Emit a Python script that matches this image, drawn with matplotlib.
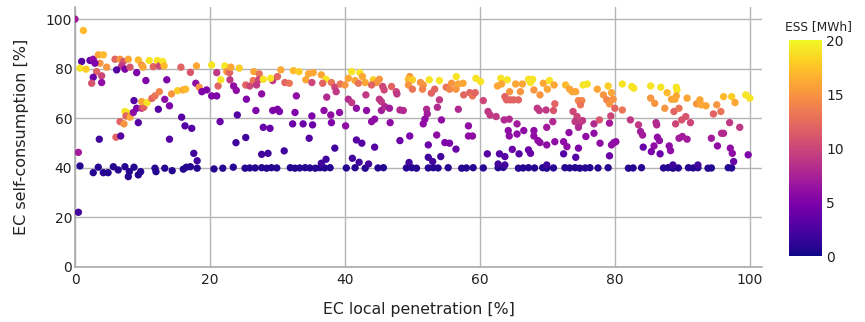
import matplotlib.pyplot as plt
import numpy as np

# region x < 21.5 (upper cloud + rising branch)
xa = [0.0, 1.24, 0.99, 0.74, 1.63, 2.22, 2.7, 3.46, 4.2, 3.7,
      2.96, 4.7, 3.2, 3.95, 2.7, 2.47, 3.95, 5.93, 6.67, 7.16,
      6.91, 7.9, 7.4, 8.15, 6.17, 9.14, 9.38, 9.88, 10.1, 11.0,
      11.6, 12.2, 12.5, 13.0, 13.2, 10.5, 13.6, 15.7, 17.1, 18.0,
      20.25, 21.0, 17.9, 18.4, 18.8, 19.5, 20.25, 21.0, 21.2, 21.5,
      7.4, 7.9, 7.56, 8.15, 6.67, 7.26, 6.07, 6.77, 8.64, 8.74,
      9.14, 9.38, 9.88, 10.2, 9.88, 10.7, 11.4, 11.85, 12.5, 12.35,
      13.3, 14.0, 14.3, 15.2, 16.0, 16.4, 15.8, 16.3, 17.3, 14.0,
      3.6, 0.5, 0.5, 17.6, 18.1]
ya = [100.1, 95.5, 83.0, 80.3, 79.9, 83.4, 83.9, 85.7, 85.7, 82.3,
      82.3, 80.7, 78.9, 77.2, 76.6, 74.2, 74.5, 83.9, 83.9, 83.0,
      81.2, 83.9, 79.9, 80.7, 79.6, 78.5, 83.6, 81.6, 80.7, 83.4,
      80.9, 83.4, 81.2, 83.0, 81.2, 75.3, 75.6, 80.7, 78.6, 81.2,
      81.6, 78.5, 74.2, 72.6, 70.8, 71.5, 69.1, 69.1, 73.1, 58.7,
      62.8, 62.1, 61.0, 60.5, 58.7, 57.8, 52.4, 52.9, 62.4, 67.2,
      64.1, 58.3, 64.1, 64.5, 66.8, 66.4, 68.1, 69.1, 70.8, 63.7,
      67.7, 65.1, 69.9, 71.2, 71.5, 71.8, 60.5, 57.0, 56.0, 51.6,
      51.6, 46.3, 22.1, 45.9, 42.9]
ea = [7, 17, 3, 19, 18, 4, 6, 16, 17, 15,
      5, 15, 12, 10, 4, 11, 6, 12, 15, 11,
      9, 16, 5, 11, 3, 5, 17, 15, 16, 19,
      12, 19, 10, 19, 17, 5, 5, 12, 11, 16,
      19, 9, 6, 15, 5, 5, 5, 5, 12, 4,
      19, 19, 12, 16, 12, 15, 12, 3, 6, 3,
      5, 3, 9, 12, 16, 19, 12, 13, 14, 3,
      6, 5, 15, 18, 16, 17, 3, 3, 3, 3,
      2, 7, 2, 2, 2]

# region 21.5 - 40.5
xb = [21.6, 22.2, 22.5, 22.9, 23.1, 22.96, 24.35, 23.5, 23.9, 25.3,
      25.9, 25.4, 26.5, 27.3, 26.4, 27.2, 26.9, 27.9, 27.66, 26.8,
      24.05, 23.85, 25.3, 27.9, 28.9, 27.66, 28.6, 29.3, 29.0, 30.0,
      29.3, 30.0, 30.3, 30.5, 31.1, 31.75, 31.0, 32.35, 33.2, 32.8,
      32.6, 32.25, 33.8, 34.7, 35.1, 35.2, 34.6, 35.3, 34.2, 35.1,
      36.5, 37.2, 36.7, 38.0, 38.5, 38.7, 37.3, 36.9, 37.9, 38.0,
      39.2, 39.3, 40.0, 40.1, 38.5, 37.2, 40.5, 36.5]
yb = [75.6, 81.2, 78.9, 78.5, 80.7, 75.6, 80.3, 73.1, 71.3, 73.5,
      73.1, 67.75, 78.9, 78.0, 75.3, 75.6, 73.5, 75.8, 69.9, 63.2,
      61.4, 50.2, 52.3, 56.4, 56.0, 45.5, 45.9, 75.3, 76.2, 76.9,
      63.2, 63.7, 62.8, 79.6, 74.5, 74.2, 46.9, 79.3, 78.9, 69.1,
      62.4, 57.8, 57.8, 52.0, 61.0, 57.4, 78.0, 78.5, 75.6, 74.5,
      77.6, 75.8, 74.2, 74.5, 72.6, 70.8, 68.6, 63.2, 61.4, 58.3,
      62.4, 73.9, 73.5, 57.0, 48.0, 43.5, 67.75, 41.9]
eb = [19, 19, 15, 12, 16, 9, 18, 6, 6, 12,
      10, 5, 16, 13, 13, 10, 9, 19, 6, 5,
      3, 2, 2, 4, 4, 2, 2, 9, 19, 12,
      5, 5, 5, 16, 12, 13, 2, 17, 18, 6,
      5, 4, 4, 3, 5, 4, 16, 16, 16, 10,
      16, 19, 12, 13, 10, 9, 8, 6, 6, 5,
      6, 13, 15, 6, 2, 2, 8, 2]

# region 40.5 - 59.5
xc = [41.0, 42.2, 40.5, 41.5, 42.6, 43.0, 42.0, 44.2, 45.1, 44.7,
      43.95, 41.0, 41.7, 41.7, 42.5, 44.4, 43.2, 43.1, 45.1, 45.4,
      45.4, 45.9, 46.6, 44.4, 43.95, 46.7, 45.6, 45.8, 46.9, 47.6,
      47.7, 48.15, 48.65, 48.15, 49.6, 49.6, 49.4, 50.0, 49.4, 50.0,
      51.2, 51.6, 51.5, 52.5, 54.0, 53.3, 52.8, 52.1, 52.2, 51.85,
      51.6, 54.0, 53.7, 54.3, 53.6, 52.35, 54.8, 55.5, 56.45, 55.0,
      55.5, 55.8, 56.45, 56.5, 56.8, 57.5, 57.6, 58.5, 58.9, 59.3,
      56.8, 58.3, 58.3, 58.9,
      41.1, 42.1, 43.5, 49.5, 52.35, 53.0, 54.2]
yc = [78.9, 78.5, 76.2, 75.3, 76.9, 74.5, 74.2, 75.6, 75.8, 74.5,
      73.5, 66.4, 64.1, 51.3, 50.0, 48.4, 63.2, 69.5, 67.75, 66.8,
      63.2, 64.8, 64.1, 59.7, 58.7, 58.3, 72.9, 71.5, 72.9, 70.8,
      69.9, 63.4, 63.2, 51.05, 52.9, 76.9, 75.8, 75.6, 73.5, 71.8,
      74.5, 73.5, 71.8, 75.6, 75.3, 71.8, 70.2, 63.7, 61.8, 59.7,
      57.8, 67.5, 64.5, 59.4, 53.3, 49.3, 50.25, 50.0, 47.6, 72.6,
      71.8, 74.2, 71.8, 76.9, 73.9, 74.2, 69.5, 70.4, 69.1, 70.4,
      63.7, 57.0, 52.9, 52.9,
      43.9, 42.3, 41.6, 42.2, 44.3, 42.6, 44.6]
ec = [19, 19, 16, 16, 16, 16, 13, 18, 15, 15,
      12, 9, 6, 3, 3, 3, 6, 9, 9, 9,
      7, 8, 7, 6, 6, 6, 10, 10, 12, 10,
      9, 8, 8, 4, 5, 15, 17, 18, 15, 13,
      15, 15, 14, 19, 19, 12, 12, 8, 7, 6,
      6, 9, 8, 6, 6, 4, 5, 5, 4, 13,
      14, 15, 15, 19, 16, 16, 12, 12, 13, 12,
      8, 6, 6, 6,
      2, 2, 2, 2, 2, 2, 2]

# region 59.5 - 79.3
xd = [59.4, 60.1, 60.5, 61.2, 61.5, 62.4, 61.1, 62.9, 63.7, 64.8,
      65.8, 67.2, 67.5, 63.1, 64.05, 62.6, 63.2, 65.3, 66.3, 67.2,
      67.8, 67.5, 64.4, 66.0, 63.7, 63.95, 64.5, 65.0, 65.7, 63.6,
      64.35, 65.5, 64.2, 64.35, 65.5, 66.5, 68.0, 68.0, 68.6, 68.9,
      69.9, 68.0, 68.9, 69.4, 70.3, 70.0, 71.0, 68.5, 68.8, 69.8,
      71.1, 70.9, 70.8, 69.9, 71.1, 72.7, 73.3, 73.7, 74.2, 75.3,
      75.9, 74.6, 75.1, 74.9, 73.8, 74.4, 74.1, 74.7, 75.2, 74.6,
      73.2, 72.4, 72.9, 74.6, 75.7, 72.4, 74.2, 76.9, 76.9, 77.7,
      77.8, 77.4, 78.3, 79.0, 78.8, 79.2, 79.2, 79.2,
      62.7, 63.7, 69.9]
yd = [76.2, 74.9, 67.2, 62.8, 61.4, 60.75, 45.7, 45.7, 44.6, 47.5,
      45.7, 47.3, 45.9, 76.2, 75.6, 73.1, 73.9, 73.9, 73.9, 75.8,
      75.8, 74.5, 70.8, 70.8, 68.8, 67.5, 67.5, 67.5, 67.5, 59.4,
      59.7, 57.8, 55.1, 52.9, 53.7, 55.1, 55.1, 52.9, 51.05, 50.25,
      49.3, 71.5, 69.5, 74.2, 75.3, 71.8, 73.5, 64.1, 63.2, 63.4,
      65.9, 63.2, 58.7, 56.4, 50.6, 73.5, 71.8, 70.8, 70.8, 73.5,
      73.9, 67.2, 67.2, 65.5, 62.8, 60.75, 58.7, 57.8, 59.1, 56.4,
      54.3, 50.6, 48.6, 48.0, 52.7, 45.7, 44.3, 57.8, 54.0, 59.4,
      50.0, 71.8, 69.5, 73.1, 67.5, 65.9, 58.1, 44.9,
      41.6, 41.2, 41.2]
ed = [19, 19, 10, 9, 9, 9, 3, 3, 3, 4,
      3, 4, 4, 19, 19, 16, 16, 16, 16, 19,
      19, 19, 15, 15, 12, 12, 12, 12, 12, 8,
      8, 7, 6, 6, 6, 6, 6, 6, 6, 6,
      6, 15, 15, 16, 19, 16, 16, 9, 9, 9,
      12, 11, 8, 7, 6, 17, 16, 16, 16, 19,
      19, 14, 14, 13, 10, 10, 9, 9, 9, 8,
      6, 6, 6, 5, 6, 3, 3, 8, 6, 11,
      6, 16, 15, 18, 14, 15, 7, 4,
      2, 2, 2]

# region 79.3 - 100
xe = [81.1, 82.5, 82.8, 79.5, 79.75, 80.0, 81.1, 79.4, 79.5, 79.85,
      80.15, 82.3, 83.5, 83.8, 84.1, 84.2, 85.3, 86.8, 85.3, 85.9,
      86.1, 86.2, 86.3, 86.6, 85.8, 85.4, 86.7, 87.75, 87.4, 88.4,
      88.9, 89.1, 89.2, 89.1, 88.75, 89.5, 90.7, 89.0, 89.9, 90.5,
      91.2, 88.05, 88.25, 89.5, 90.0, 90.7, 92.1, 92.6, 92.8, 93.5,
      94.3, 95.2, 94.6, 95.1, 95.7, 95.8, 96.1, 96.1, 97.3, 97.8,
      97.0, 98.5, 97.1, 97.4, 97.6, 99.75, 99.4, 100.0,
      88.6, 92.3]
ye = [73.9, 72.9, 72.2, 70.4, 67.75, 64.1, 63.4, 61.0, 49.3, 50.25,
      50.6, 59.4, 57.4, 54.7, 53.3, 48.4, 73.1, 72.6, 68.2, 66.1,
      58.3, 57.4, 52.4, 51.05, 48.9, 46.6, 45.7, 70.4, 64.1, 67.75,
      67.75, 72.6, 71.5, 69.1, 62.8, 64.1, 68.2, 57.8, 59.4, 60.75,
      58.3, 48.9, 47.0, 52.0, 52.7, 51.6, 65.9, 67.5, 65.5, 65.1,
      52.0, 48.9, 61.8, 65.5, 62.8, 54.0, 54.0, 68.8, 68.8, 66.4,
      58.3, 56.4, 48.0, 45.9, 42.6, 45.3, 69.5, 68.2,
      41.2, 41.2]
ee = [19, 19, 19, 16, 15, 12, 13, 10, 6, 6,
      6, 9, 9, 7, 7, 4, 19, 19, 15, 15,
      8, 8, 6, 6, 6, 5, 4, 17, 15, 16,
      16, 19, 19, 16, 12, 13, 16, 10, 11, 11,
      10, 6, 6, 7, 7, 7, 15, 16, 16, 16,
      7, 6, 12, 15, 13, 8, 8, 17, 18, 16,
      9, 9, 6, 6, 4, 5, 19, 19,
      2, 2]

# base band around 40 % (ESS close to 0)
x_base = [0.74, 2.7, 3.45, 4.2, 4.9, 5.68, 6.4, 7.4, 7.9, 8.05,
          8.74, 9.38, 9.73, 11.85, 12.0, 13.3, 14.4, 16.05, 16.5, 17.1,
          18.1, 20.6, 21.9, 23.45, 25.2, 25.9, 26.7, 27.66, 28.4, 29.1,
          29.9, 31.9, 32.6, 33.3, 34.1, 34.8, 35.6, 36.3, 37.0, 37.8,
          40.2, 41.5, 43.0, 44.9, 45.7, 49.1, 49.9, 50.6, 52.35, 53.1,
          53.8, 55.3, 57.3, 58.0, 59.0, 60.5, 62.7, 63.45, 65.7, 66.4,
          67.2, 68.1, 69.3, 69.9, 70.9, 72.6, 73.3, 74.1, 74.8, 75.6,
          76.3, 77.5, 79.0, 82.0, 82.7, 83.95, 87.2, 87.9, 88.6, 89.4,
          90.9, 91.6, 92.3, 93.8, 94.3, 96.8, 97.3]
y_base = [40.8, 38.1, 40.3, 38.1, 38.1, 40.5, 39.2, 40.5, 36.5, 38.5,
          40.3, 37.2, 38.5, 39.9, 38.5, 39.9, 38.9, 39.5, 40.3, 40.5,
          39.9, 39.6, 39.9, 40.3, 39.9, 40.0, 40.0, 40.1, 39.9, 40.1,
          40.0, 40.1, 39.9, 40.0, 40.1, 40.0, 39.9, 40.1, 40.0, 40.1,
          40.0, 40.1, 39.9, 40.0, 40.1, 40.0, 40.1, 39.9, 40.0, 40.1,
          40.0, 40.1, 39.9, 40.0, 40.1, 40.0, 40.1, 40.2, 39.9, 40.0,
          40.1, 40.0, 40.1, 39.9, 40.0, 40.1, 40.0, 40.1, 39.9, 40.0,
          40.1, 40.0, 40.1, 39.9, 40.0, 40.1, 40.0, 40.1, 39.9, 40.0,
          40.1, 40.0, 40.1, 39.9, 40.0, 40.1, 40.0]
ess_base = 0.8

x = np.concatenate([x_base, xa, xb, xc, xd, xe])
y = np.concatenate([y_base, ya, yb, yc, yd, ye])
ess = np.concatenate([[ess_base] * len(x_base), ea, eb, ec, ed, ee])

fig = plt.figure(figsize=(8.65, 3.22), dpi=100)
ax = fig.add_axes([75 / 865, 55 / 322, 687 / 865, 260 / 322])

sc = ax.scatter(x, y, c=ess, cmap='plasma', vmin=0, vmax=20, s=28,
                linewidths=0, zorder=3)

ax.set_xlim(0, 101.8)
ax.set_ylim(0, 105)
ax.set_xticks([0, 20, 40, 60, 80, 100])
ax.set_yticks([0, 20, 40, 60, 80, 100])
ax.grid(color='#b4b4b4', linewidth=1)
ax.set_axisbelow(True)
for s in ['top', 'right']:
    ax.spines[s].set_visible(False)
for s in ['left', 'bottom']:
    ax.spines[s].set_color('#aaaaaa')
    ax.spines[s].set_linewidth(1.2)
ax.tick_params(length=0, labelsize=10, colors='#222222')
ax.tick_params(axis='x', pad=4)
ax.tick_params(axis='y', pad=2)

ax.set_xlabel('EC local penetration [%]', fontsize=11.3, color='#222222', labelpad=11)
ax.set_ylabel('EC self-consumption [%]', fontsize=11.5, color='#222222', labelpad=12)

cax = fig.add_axes([789 / 865, 66 / 322, 33 / 865, 216 / 322])
cb = fig.colorbar(sc, cax=cax, ticks=[0, 5, 10, 15, 20])
cb.outline.set_visible(False)
cb.ax.tick_params(length=0, labelsize=10, colors='#222222', pad=3)
fig.text(785 / 865, 1 - 27 / 322, 'ESS [MWh]', ha='left', va='center',
         fontsize=8.8, color='#222222')

fig.savefig('out.png', dpi=100)
